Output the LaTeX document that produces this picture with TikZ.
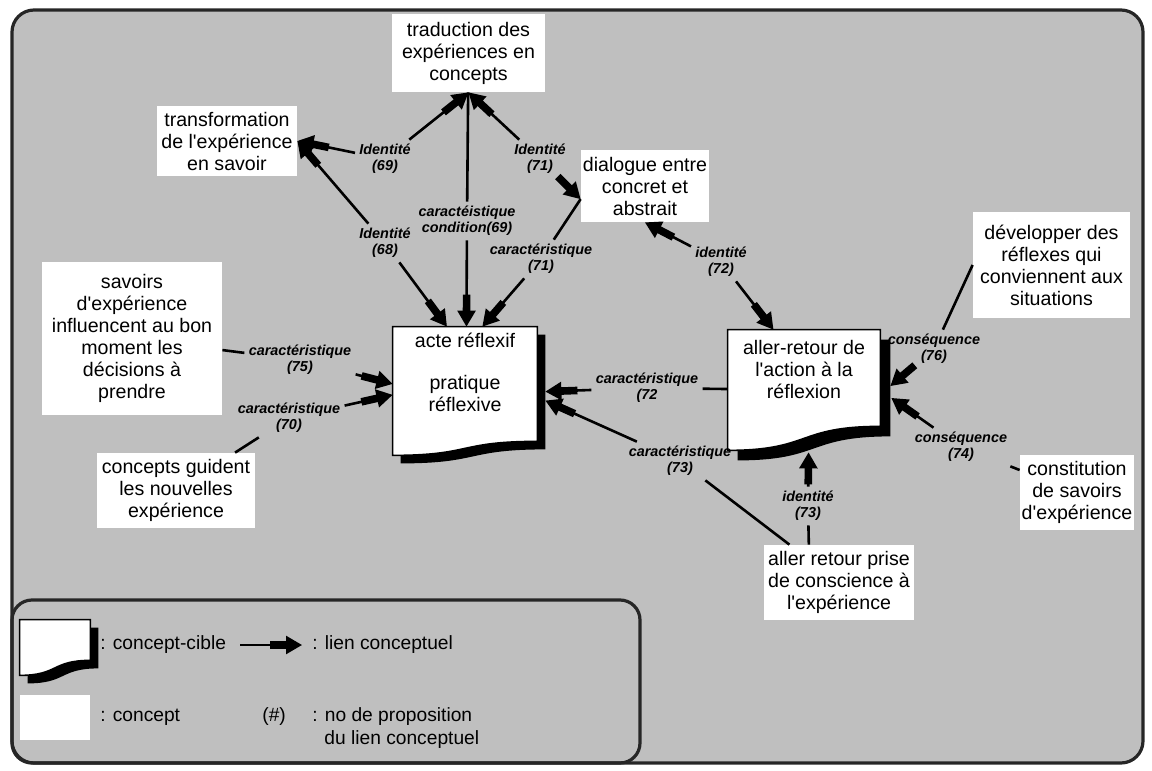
\documentclass[tikz,border=0pt]{standalone}
\usepackage{fontspec}
\setmainfont{Liberation Sans}
\usetikzlibrary{arrows.meta,calc}
\pgfdeclarelayer{cadre}
\pgfdeclarelayer{formes}
\pgfsetlayers{cadre,formes,main}
\definecolor{fond}{gray}{0.75}
\definecolor{bord}{gray}{0.15}
\newcommand\ap{\textquotesingle}

\tikzset{
  concept/.style={fill=white, inner sep=0pt, align=center, font=\fontsize{9.8}{11}\selectfont},
  ciblebox/.style={inner sep=0pt, align=center, font=\fontsize{9.8}{11}\selectfont},
  etiq/.style={inner sep=2pt, align=center, font=\fontsize{7.2}{8.2}\selectfont\bfseries\itshape},
  legende/.style={inner sep=0pt, anchor=west, font=\fontsize{9.6}{11}\selectfont},
  trait/.style={line width=1.3pt},
  fleche/.style={line width=1.3pt, -{Triangle[length=8pt,width=9pt]}},
  epais/.style={line width=3.8pt, shorten >=6pt},
}

% conceptual link: thin line from the label, thick shaft and head at the target
\newcommand\lien[2]{%
  \draw[fleche] (#1) -- (#2);
  \draw[epais] ($(#2)!16pt!(#1)$) -- (#2);
}

% target concept: box with a wavy lower edge and a black drop shadow
% #1 node, #2 shadow dx, #3 shadow dy, #4 rise of the lower right corner
\newcommand\formecible[4]{%
  \path[fill=black] let \p1=(#1.north west), \p2=(#1.south east) in
    ({\x1+#2},{\y1-#3}) -- ({\x2+#2},{\y1-#3}) -- ({\x2+#2},{\y2+#4-#3})
    .. controls ({\x1+0.45*(\x2-\x1)+#2},{\y2+#4-#3}) and ({\x1+0.55*(\x2-\x1)+#2},{\y2-#3})
    .. ({\x1+#2},{\y2-#3}) -- cycle;
  \path[fill=white, draw=black, line width=0.8pt] let \p1=(#1.north west), \p2=(#1.south east) in
    (\x1,\y1) -- (\x2,\y1) -- (\x2,{\y2+#4})
    .. controls ({\x1+0.45*(\x2-\x1)},{\y2+#4}) and ({\x1+0.55*(\x2-\x1)},\y2)
    .. (\x1,\y2) -- cycle;
}

\begin{document}
\begin{tikzpicture}[x=0.5pt,y=-0.5pt]
\useasboundingbox (0,0) rectangle (1152,771);

\begin{pgfonlayer}{cadre}
  \draw[draw=bord, fill=fond, line width=1.6pt, rounded corners=11pt] (12,10) rectangle (1143,763);
  \draw[draw=bord, line width=1.6pt, rounded corners=10pt] (12,600) rectangle (640,763);
\end{pgfonlayer}

% concepts
\node[concept, minimum width=76.5pt, minimum height=39pt] (trad) at (468.5,53) {traduction des\\expériences en\\concepts};
\node[concept, minimum width=70pt, minimum height=35pt] (transf) at (227,141) {transformation\\de l\ap expérience\\en savoir};
\node[concept, minimum width=64pt, minimum height=36pt] (dial) at (645,186) {dialogue entre\\concret et\\abstrait};
\node[concept, minimum width=90pt, minimum height=76.5pt] (savoirs) at (132,338.5) {savoirs\\d\ap expérience\\influencent au bon\\moment les\\décisions à\\prendre};
\node[concept, minimum width=79pt, minimum height=37.5pt] (concepts) at (176,490.5) {concepts guident\\les nouvelles\\expérience};
\node[concept, minimum width=78.5pt, minimum height=53pt] (dev) at (1051.5,265) {développer des\\réflexes qui\\conviennent aux\\situations};
\node[concept, minimum width=57pt, minimum height=37.5pt] (const) at (1077,492.5) {constitution\\de savoirs\\d\ap expérience};
\node[concept, minimum width=75pt, minimum height=37.5pt] (prise) at (839,582.5) {aller retour prise\\de conscience à\\l\ap expérience};

% target concepts
\node[ciblebox, minimum width=72pt, minimum height=64pt] (acte) at (465,391) {acte réflexif\\[10pt]pratique\\réflexive\\[8pt]\mbox{}};
\node[ciblebox, minimum width=76pt, minimum height=60pt] (aller) at (804,390) {aller-retour de\\l\ap action à la\\réflexion\\[10pt]\mbox{}};

\begin{pgfonlayer}{formes}
  \formecible{acte}{4pt}{4pt}{7pt}
  \formecible{aller}{5pt}{5pt}{12pt}
\end{pgfonlayer}

% link labels
\node[etiq] (L69) at (385,159) {Identité\\(69)};
\node[etiq] (L71) at (540,159) {Identité\\(71)};
\node[etiq] (C69) at (467,221) {caractéistique\\condition(69)};
\node[etiq] (L68) at (385,243) {Identité\\(68)};
\node[etiq] (C71) at (541,259) {caractéristique\\(71)};
\node[etiq] (L72) at (721,262) {identité\\(72)};
\node[etiq] (C72) at (647,388) {caractéristique\\(72};
\node[etiq] (C73) at (680,461) {caractéristique\\(73)};
\node[etiq] (L73) at (808,506) {identité\\(73)};
\node[etiq] (C75) at (300,360) {caractéristique\\(75)};
\node[etiq] (C70) at (289,418) {caractéristique\\(70)};
\node[etiq] (Q76) at (934,349) {conséquence\\(76)};
\node[etiq] (Q74) at (961,447) {conséquence\\(74)};

% attachment points on the concepts
\coordinate (dialG) at ($(dial.north west)!0.68!(dial.south west)$);
\coordinate (priseH) at ($(prise.north west)!0.3!(prise.north east)$);
\coordinate (acteH1) at ($(acte.north west)!0.375!(acte.north east)$);
\coordinate (acteH2) at ($(acte.north west)!0.51!(acte.north east)$);
\coordinate (acteH3) at ($(acte.north west)!0.62!(acte.north east)$);
\coordinate (acteG1) at ($(acte.north west)!0.445!(acte.south west)$);
\coordinate (acteG2) at ($(acte.north west)!0.53!(acte.south west)$);
\coordinate (acteD1) at ($(acte.north east)+(8,65)$);
\coordinate (acteD2) at ($(acte.north east)+(8,74)$);
\coordinate (allerH) at ($(aller.north west)!0.3!(aller.north east)$);
\coordinate (allerB) at ($(aller.south west)!0.53!(aller.south east)+(0,2)$);
\coordinate (allerD1) at ($(aller.east)+(10,-4)$);
\coordinate (allerD2) at ($(aller.east)+(11,8)$);

% links
\lien{L69}{trad.south}
\lien{L69}{transf.east}
\lien{L71}{trad.south}
\lien{L71}{dialG}
\draw[trait] (trad) -- (C69);
\lien{C69}{acteH2}
\lien{L68}{transf.east}
\lien{L68}{acteH1}
\draw[trait] (dialG) -- (C71);
\lien{C71}{acteH3}
\lien{L72}{dial.south}
\lien{L72}{allerH}
\draw[trait] (aller) -- (C72);
\lien{C72}{acteD1}
\draw[trait] (prise) -- (C73);
\lien{C73}{acteD2}
\draw[trait] (priseH) -- (L73);
\lien{L73}{allerB}
\draw[trait] (savoirs) -- (C75);
\lien{C75}{acteG1}
\draw[trait] (concepts) -- (C70);
\lien{C70}{acteG2}
\draw[trait] (dev.west) -- (Q76);
\lien{Q76}{allerD1}
\draw[trait] (const) -- (Q74);
\lien{Q74}{allerD2}

% legend
\node[minimum width=35pt, minimum height=27.5pt, inner sep=0pt] (legcible) at (55,647.5) {};
\begin{pgfonlayer}{formes}
  \formecible{legcible}{4pt}{4pt}{7.5pt}
\end{pgfonlayer}
\node[legende] (txtcible) at (100,645) {: concept-cible};
\coordinate (legA) at (240,645);
\coordinate (legB) at (302,645);
\lien{legA}{legB}
\node[legende] (txtlien) at (312,645) {: lien conceptuel};
\node[fill=white, minimum width=35pt, minimum height=22.5pt, inner sep=0pt] (legconcept) at (55,717.5) {};
\node[legende] (txtconcept) at (100,717) {: concept};
\node[legende] (diese) at (262,717) {(\#)};
\node[legende] (txtno) at (312,717) {: no de proposition};
\node[legende] (txtno2) at (324,740) {du lien conceptuel};
\end{tikzpicture}
\end{document}
